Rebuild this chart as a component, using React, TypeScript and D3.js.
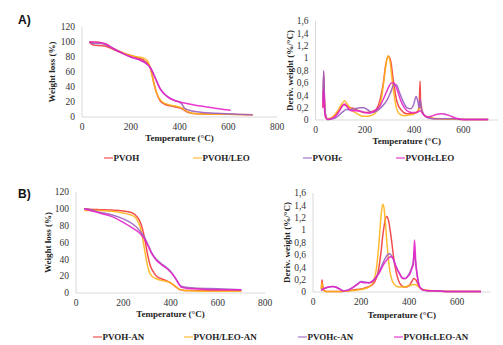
import React from "react";
import * as d3 from "d3";

// ---------- DATA ----------
const seriesNamesA = ["PVOH", "PVOH/LEO", "PVOHc", "PVOHcLEO"];
const seriesNamesB = ["PVOH-AN", "PVOH/LEO-AN", "PVOHc-AN", "PVOHcLEO-AN"];
const colors = ["#f23b3b", "#ffb31a", "#9b5fc0", "#e424c8"];

const tgaTicksY = [0, 20, 40, 60, 80, 100, 120];
const tgaTicksX = [0, 200, 400, 600, 800];
const dtgTicksY = [0, 0.2, 0.4, 0.6, 0.8, 1, 1.2, 1.4, 1.6];
const dtgTicksX = [0, 200, 400, 600];

// Panel A – TGA
const aTgaPVOH_T = [30, 40, 55, 80, 100, 130, 160, 200, 230, 260, 275, 285, 295, 305, 320, 340, 360, 390, 410, 430, 450, 500, 600, 700];
const aTgaPVOH_V = [100, 97, 95.5, 95, 94, 90, 86, 82, 79, 74, 69, 60, 45, 33, 22, 17, 15, 13, 11, 7, 5, 4, 3.5, 3];
const aTgaLEO_T = [30, 50, 80, 100, 130, 160, 200, 230, 255, 270, 280, 290, 300, 315, 330, 360, 390, 410, 430, 450, 500, 600, 700];
const aTgaLEO_V = [100, 100, 99, 97, 91, 87, 82, 80, 78, 74, 66, 52, 38, 26, 20, 16, 14, 12, 8, 5, 4, 3.5, 3];
const aTgaC_T = [30, 50, 80, 100, 130, 160, 200, 230, 260, 280, 300, 320, 340, 360, 380, 400, 410, 420, 440, 470, 550, 650, 700];
const aTgaC_V = [100, 98, 98, 96, 91, 86, 80, 77, 72, 66, 53, 38, 30, 25, 22, 20, 17, 12, 9, 7, 5, 3.5, 3];
const aTgaCLEO_T = [30, 50, 80, 100, 130, 160, 200, 230, 260, 280, 300, 320, 340, 360, 380, 400, 430, 460, 500, 540, 580, 610];
const aTgaCLEO_V = [100, 100, 99, 97, 91, 86, 80, 77, 72, 66, 52, 38, 30, 25, 22, 20, 18, 16, 14, 12, 10, 9];

// Panel A – DTG
const aDtgPVOH_T = [30, 33, 36, 40, 45, 50, 60, 80, 100, 115, 125, 140, 160, 180, 200, 220, 240, 260, 275, 285, 295, 305, 315, 330, 350, 370, 390, 410, 420, 424, 426, 428, 432, 440, 460, 480, 500, 550, 600, 700];
const aDtgPVOH_V = [0.2, 0.78, 0.4, 0.1, 0.02, 0.01, 0.02, 0.08, 0.18, 0.25, 0.23, 0.2, 0.18, 0.14, 0.12, 0.13, 0.15, 0.3, 0.6, 0.9, 1.03, 0.95, 0.65, 0.3, 0.15, 0.1, 0.1, 0.12, 0.2, 0.63, 0.3, 0.25, 0.15, 0.08, 0.04, 0.02, 0.02, 0.02, 0.01, 0.01];
const aDtgLEO_T = [30, 33, 36, 40, 50, 70, 90, 105, 118, 130, 150, 170, 190, 210, 230, 250, 265, 278, 288, 295, 302, 312, 325, 340, 360, 380, 400, 415, 425, 432, 440, 460, 500, 600, 700];
const aDtgLEO_V = [0.2, 0.5, 0.3, 0.08, 0.02, 0.05, 0.15, 0.25, 0.31, 0.25, 0.15, 0.1, 0.06, 0.06, 0.08, 0.15, 0.3, 0.65, 0.95, 1.04, 0.95, 0.6, 0.25, 0.1, 0.07, 0.08, 0.1, 0.15, 0.2, 0.15, 0.08, 0.04, 0.02, 0.01, 0.01];
const aDtgC_T = [30, 33, 36, 40, 50, 70, 90, 110, 125, 140, 160, 180, 195, 210, 230, 250, 270, 290, 305, 318, 328, 340, 355, 370, 385, 398, 408, 415, 420, 425, 428, 432, 440, 460, 500, 550, 600, 700];
const aDtgC_V = [0.3, 0.8, 0.4, 0.1, 0.01, 0.02, 0.06, 0.13, 0.17, 0.17, 0.18, 0.2, 0.2, 0.17, 0.12, 0.15, 0.22, 0.32, 0.45, 0.57, 0.57, 0.45, 0.3, 0.2, 0.18, 0.25, 0.38, 0.3, 0.2, 0.33, 0.2, 0.15, 0.08, 0.03, 0.02, 0.02, 0.01, 0.01];
const aDtgCLEO_T = [30, 33, 36, 40, 50, 70, 90, 105, 118, 130, 145, 165, 185, 200, 220, 240, 260, 280, 295, 308, 318, 330, 345, 360, 380, 400, 415, 425, 435, 450, 470, 490, 510, 530, 550, 570, 590, 620, 700];
const aDtgCLEO_V = [0.2, 0.5, 0.2, 0.05, 0.01, 0.03, 0.1, 0.2, 0.26, 0.2, 0.15, 0.15, 0.14, 0.12, 0.11, 0.15, 0.22, 0.38, 0.52, 0.6, 0.6, 0.5, 0.32, 0.2, 0.13, 0.12, 0.13, 0.15, 0.1, 0.05, 0.06, 0.09, 0.1, 0.09, 0.06, 0.03, 0.01, 0.01, 0.01];

// Panel B – TGA
const bTgaPVOH_T = [35, 60, 100, 150, 200, 230, 250, 265, 275, 285, 295, 305, 315, 330, 345, 360, 380, 400, 420, 440, 460, 500, 600, 700];
const bTgaPVOH_V = [100, 99.5, 99, 98.5, 97.5, 96, 93, 88, 82, 72, 58, 43, 32, 24, 19, 17, 15, 12, 8, 4, 3, 3, 3, 3];
const bTgaLEO_T = [35, 60, 100, 150, 200, 230, 250, 262, 272, 280, 290, 300, 310, 325, 340, 360, 380, 400, 420, 440, 460, 500, 600, 700];
const bTgaLEO_V = [98, 98, 98, 97, 95, 93, 90, 85, 78, 68, 52, 36, 25, 19, 17, 15, 14, 12, 8, 4, 3, 2.5, 2, 2];
const bTgaC_T = [35, 60, 100, 150, 200, 240, 270, 290, 305, 320, 340, 360, 380, 400, 420, 435, 445, 460, 500, 600, 700];
const bTgaC_V = [100, 99, 96, 93, 88, 82, 74, 66, 57, 48, 40, 35, 31, 26, 18, 11, 8, 7, 6, 5, 4];
const bTgaCLEO_T = [35, 60, 100, 150, 200, 240, 270, 290, 305, 320, 340, 360, 380, 400, 420, 435, 445, 460, 500, 600, 700];
const bTgaCLEO_V = [100, 98, 95, 91, 84, 77, 71, 64, 56, 47, 39, 34, 30, 25, 18, 11, 7, 6, 5, 4, 4];

// Panel B – DTG
const bDtgPVOH_T = [35, 37, 40, 45, 55, 70, 90, 120, 150, 180, 200, 220, 240, 255, 270, 282, 292, 300, 307, 315, 325, 340, 355, 370, 385, 400, 412, 420, 428, 438, 450, 470, 500, 550, 600, 700];
const bDtgPVOH_V = [0.05, 0.2, 0.12, 0.03, 0.01, 0.01, 0.01, 0.01, 0.02, 0.04, 0.05, 0.07, 0.1, 0.15, 0.3, 0.6, 0.95, 1.15, 1.22, 1.15, 0.9, 0.45, 0.2, 0.1, 0.08, 0.1, 0.17, 0.22, 0.2, 0.12, 0.05, 0.03, 0.02, 0.01, 0.01, 0.01];
const bDtgLEO_T = [35, 37, 40, 45, 55, 70, 90, 120, 150, 180, 200, 220, 240, 255, 265, 275, 283, 290, 295, 300, 308, 318, 330, 345, 360, 375, 390, 405, 420, 435, 450, 470, 500, 600, 700];
const bDtgLEO_V = [0.05, 0.15, 0.08, 0.02, 0.01, 0.01, 0.01, 0.01, 0.02, 0.03, 0.04, 0.06, 0.1, 0.2, 0.4, 0.8, 1.2, 1.42, 1.38, 1.2, 0.8, 0.4, 0.18, 0.1, 0.08, 0.08, 0.09, 0.11, 0.12, 0.1, 0.05, 0.03, 0.02, 0.01, 0.01];
const bDtgC_T = [35, 40, 50, 65, 80, 95, 110, 125, 145, 165, 185, 200, 215, 235, 255, 275, 295, 310, 320, 330, 345, 360, 375, 385, 395, 405, 412, 418, 422, 428, 435, 445, 460, 480, 500, 550, 600, 700];
const bDtgC_V = [0.02, 0.05, 0.06, 0.08, 0.09, 0.08, 0.05, 0.02, 0.03, 0.07, 0.13, 0.17, 0.16, 0.15, 0.2, 0.32, 0.5, 0.6, 0.62, 0.57, 0.42, 0.3, 0.22, 0.22, 0.26, 0.33, 0.4, 0.5, 0.65, 0.45, 0.25, 0.08, 0.03, 0.02, 0.02, 0.01, 0.01, 0.01];
const bDtgCLEO_T = [35, 40, 50, 65, 80, 95, 110, 125, 145, 165, 185, 200, 215, 235, 255, 275, 295, 310, 322, 333, 345, 360, 375, 385, 395, 405, 412, 418, 423, 428, 435, 445, 460, 480, 500, 550, 600, 700];
const bDtgCLEO_V = [0.02, 0.04, 0.06, 0.08, 0.09, 0.08, 0.05, 0.02, 0.03, 0.07, 0.12, 0.16, 0.15, 0.15, 0.2, 0.3, 0.45, 0.53, 0.57, 0.55, 0.42, 0.3, 0.22, 0.22, 0.25, 0.3, 0.38, 0.45, 0.84, 0.5, 0.25, 0.08, 0.03, 0.02, 0.02, 0.01, 0.01, 0.01];

type Series = { t: number[]; v: number[] };

const SERIF = "'Liberation Serif', 'Times New Roman', serif";

function Panel(props: {
  series: Series[];
  xDomain: [number, number];
  xRange: [number, number];
  yDomain: [number, number];
  yRange: [number, number];
  xTicks: number[];
  yTicks: number[];
  yFormat: (v: number) => string;
  yTitle: string;
  yTitleX: number;
  xTitleY: number;
}) {
  const x = d3.scaleLinear().domain(props.xDomain).range(props.xRange);
  const y = d3.scaleLinear().domain(props.yDomain).range(props.yRange);
  const line = d3
    .line<[number, number]>()
    .x((d) => x(d[0]))
    .y((d) => y(d[1]))
    .curve(d3.curveMonotoneX);
  const y0 = y(props.yDomain[0]);
  const yTop = y(props.yDomain[1]);
  const xMid = (props.xRange[0] + props.xRange[1]) / 2;
  return (
    <g>
      <line x1={props.xRange[0]} x2={props.xRange[0]} y1={yTop} y2={y0} stroke="#d9d9d9" strokeWidth={1} />
      <line x1={props.xRange[0]} x2={props.xRange[1]} y1={y0} y2={y0} stroke="#d9d9d9" strokeWidth={1} />
      {props.yTicks.map((t) => (
        <text key={"y" + t} x={props.xRange[0] - 7} y={y(t)} dy="0.35em" textAnchor="end" fontFamily={SERIF} fontSize={9.5} fill="#333">
          {props.yFormat(t)}
        </text>
      ))}
      {props.xTicks.map((t) => (
        <text key={"x" + t} x={x(t)} y={y0 + 13} textAnchor="middle" fontFamily={SERIF} fontSize={9.5} fill="#333">
          {t}
        </text>
      ))}
      {props.series.map((s, i) => (
        <path
          key={i}
          d={line(s.t.map((t, k) => [t, s.v[k]] as [number, number])) || ""}
          fill="none"
          stroke={colors[i]}
          strokeWidth={1.5}
          strokeOpacity={0.9}
        />
      ))}
      <text
        transform={`translate(${props.yTitleX},${(yTop + y0) / 2}) rotate(-90)`}
        textAnchor="middle"
        dy="0.35em"
        fontFamily={SERIF}
        fontWeight="bold"
        fontSize={9}
        fill="#222"
      >
        {props.yTitle}
      </text>
      <text x={xMid} y={props.xTitleY} textAnchor="middle" fontFamily={SERIF} fontWeight="bold" fontSize={9} fill="#222">
        Temperature (°C)
      </text>
    </g>
  );
}

function Legend(props: { names: string[]; xs: number[]; y: number }) {
  return (
    <g>
      {props.names.map((n, i) => (
        <g key={n}>
          <line x1={props.xs[i]} x2={props.xs[i] + 9} y1={props.y} y2={props.y} stroke={colors[i]} strokeOpacity={0.7} strokeWidth={1.5} />
          <text x={props.xs[i] + 9.5} y={props.y} dy="0.35em" fontFamily={SERIF} fontWeight="bold" fontSize={9} fill="#222">
            {n}
          </text>
        </g>
      ))}
    </g>
  );
}

const fmtComma = (v: number) => String(Math.round(v * 10) / 10).replace(".", ",");
const fmtInt = (v: number) => String(v);

export default function App() {
  const mk = (T: number[][], V: number[][]): Series[] => T.map((t, i) => ({ t, v: V[i] }));
  const aTga = mk([aTgaPVOH_T, aTgaLEO_T, aTgaC_T, aTgaCLEO_T], [aTgaPVOH_V, aTgaLEO_V, aTgaC_V, aTgaCLEO_V]);
  const aDtg = mk([aDtgPVOH_T, aDtgLEO_T, aDtgC_T, aDtgCLEO_T], [aDtgPVOH_V, aDtgLEO_V, aDtgC_V, aDtgCLEO_V]);
  const bTga = mk([bTgaPVOH_T, bTgaLEO_T, bTgaC_T, bTgaCLEO_T], [bTgaPVOH_V, bTgaLEO_V, bTgaC_V, bTgaCLEO_V]);
  const bDtg = mk([bDtgPVOH_T, bDtgLEO_T, bDtgC_T, bDtgCLEO_T], [bDtgPVOH_V, bDtgLEO_V, bDtgC_V, bDtgCLEO_V]);
  return (
    <div style={{ position: "absolute", left: 0, top: 0 }}>
      <svg width={503} height={345} style={{ display: "block", background: "#fff" }}>
        <text x={18} y={24} fontFamily="'Liberation Sans', Arial, sans-serif" fontWeight="bold" fontSize={12} fill="#111">A)</text>
        <text x={18} y={198} fontFamily="'Liberation Sans', Arial, sans-serif" fontWeight="bold" fontSize={12} fill="#111">B)</text>
        <Panel series={aTga} xDomain={[0, 800]} xRange={[82, 277]} yDomain={[0, 120]} yRange={[117, 27]}
          xTicks={tgaTicksX} yTicks={tgaTicksY} yFormat={fmtInt} yTitle="Weight loss (%)" yTitleX={52} xTitleY={141} />
        <Panel series={aDtg} xDomain={[0, 740]} xRange={[315.5, 498]} yDomain={[0, 1.6]} yRange={[120, 21]}
          xTicks={dtgTicksX} yTicks={dtgTicksY} yFormat={fmtComma} yTitle="Deriv. weight (%/°C)" yTitleX={290} xTitleY={144} />
        <Panel series={bTga} xDomain={[0, 800]} xRange={[76, 265]} yDomain={[0, 120]} yRange={[293, 192]}
          xTicks={tgaTicksX} yTicks={tgaTicksY} yFormat={fmtInt} yTitle="Weight loss (%)" yTitleX={48} xTitleY={317} />
        <Panel series={bDtg} xDomain={[0, 740]} xRange={[313, 490.6]} yDomain={[0, 1.6]} yRange={[292, 193]}
          xTicks={dtgTicksX} yTicks={dtgTicksY} yFormat={fmtComma} yTitle="Deriv. weight (%/°C)" yTitleX={287} xTitleY={318} />
        <Legend names={seriesNamesA} xs={[104, 193, 303, 396]} y={158} />
        <Legend names={seriesNamesB} xs={[93, 184, 298, 394]} y={337} />
      </svg>
    </div>
  );
}
